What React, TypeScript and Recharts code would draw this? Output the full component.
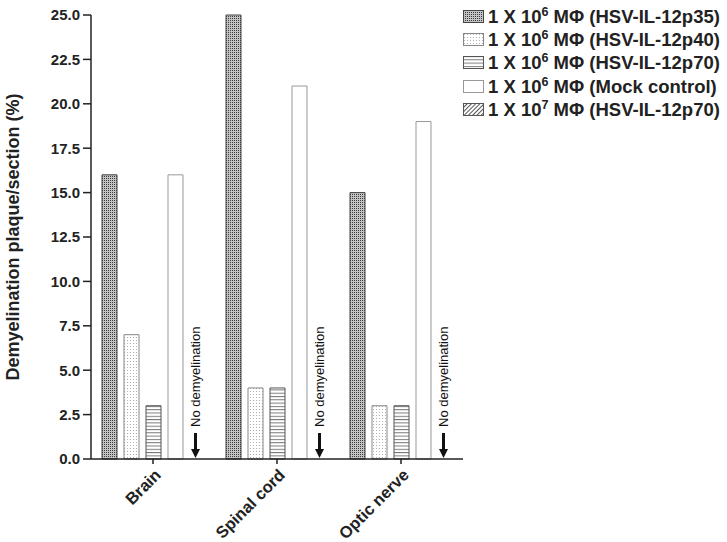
import { Bar, BarChart, Legend, Rectangle, XAxis, YAxis } from "recharts";

const CATEGORIES = ["Brain", "Spinal cord", "Optic nerve"];
const P35_1E6 = [16, 25, 15];
const P40_1E6 = [7, 4, 3];
const P70_1E6 = [3, 4, 3];
const MOCK_1E6 = [16, 21, 19];
const P70_1E7 = [0, 0, 0];
const Y_TICKS = [0, 2.5, 5, 7.5, 10, 12.5, 15, 17.5, 20, 22.5, 25];

const SERIES = [
    { key: "p35", exp: "6", label: "(HSV-IL-12p35)", fill: "url(#pat-check)", stroke: "#444" },
    { key: "p40", exp: "6", label: "(HSV-IL-12p40)", fill: "url(#pat-dots)", stroke: "#888" },
    { key: "p70", exp: "6", label: "(HSV-IL-12p70)", fill: "url(#pat-hlines)", stroke: "#555" },
    { key: "mock", exp: "6", label: "(Mock control)", fill: "#fff", stroke: "#999" },
    { key: "p70hi", exp: "7", label: "(HSV-IL-12p70)", fill: "url(#pat-diag)", stroke: "#555" },
];

const data = CATEGORIES.map((name, i) => ({
    name,
    p35: P35_1E6[i],
    p40: P40_1E6[i],
    p70: P70_1E6[i],
    mock: MOCK_1E6[i],
    p70hi: P70_1E7[i],
}));

const FONT = "'Liberation Sans', Arial, sans-serif";

function Patterns() {
    return (
        <defs>
            <pattern id="pat-check" width="2" height="2" patternUnits="userSpaceOnUse">
                <rect width="2" height="2" fill="#c4c4c4" />
                <rect width="1" height="1" fill="#3a3a3a" />
            </pattern>
            <pattern id="pat-dots" width="3" height="3" patternUnits="userSpaceOnUse">
                <rect width="3" height="3" fill="#fff" />
                <rect x="1" y="1" width="1" height="1" fill="#b0b0b0" />
            </pattern>
            <pattern id="pat-hlines" width="4" height="3.3" patternUnits="userSpaceOnUse">
                <rect width="4" height="3.3" fill="#fff" />
                <rect width="4" height="1" fill="#777" />
            </pattern>
            <pattern id="pat-diag" width="3" height="3" patternUnits="userSpaceOnUse" patternTransform="rotate(45)">
                <rect width="3" height="3" fill="#fff" />
                <rect width="1" height="3" fill="#555" />
            </pattern>
        </defs>
    );
}

// zero-height 1e7 bar: draw the arrow and the note instead of a rect
function HiDoseShape(props: any) {
    const { x, y, width, height } = props;
    if (height) return <Rectangle {...props} />;
    const cx = Number(x) + Number(width) / 2 - 2;
    const base = Number(y);
    return (
        <g>
            <text
                transform={`translate(${cx + 4.5}, ${base - 32}) rotate(-90)`}
                fontFamily={FONT}
                fontSize={13}
                fill="#111"
                textAnchor="start"
            >
                No demyelination
            </text>
            <line x1={cx} x2={cx} y1={base - 26} y2={base - 9} stroke="#111" strokeWidth={3} />
            <polygon points={`${cx - 4.5},${base - 10} ${cx + 4.5},${base - 10} ${cx},${base - 1}`} fill="#111" />
        </g>
    );
}

function XTick(props: any) {
    const { x, y, payload } = props;
    return (
        <text
            transform={`translate(${x + 9}, ${y + 10}) rotate(-45)`}
            textAnchor="end"
            fontFamily={FONT}
            fontWeight="bold"
            fontSize={16.5}
            fill="#222"
        >
            {payload.value}
        </text>
    );
}

function LegendBox() {
    return (
        <div style={{ fontFamily: FONT, fontWeight: "bold", fontSize: 18.5, color: "#222" }}>
            {SERIES.map((s) => (
                <div key={s.key} style={{ display: "flex", alignItems: "center", height: 23.3, whiteSpace: "nowrap" }}>
                    <svg width={22} height={14} style={{ marginRight: 3 }}>
                        <rect x={0.5} y={0.5} width={20} height={12} fill={s.fill} stroke={s.stroke} />
                    </svg>
                    <span>
                        1 X 10<sup style={{ fontSize: 12.5, lineHeight: 0 }}>{s.exp}</sup> MΦ {s.label}
                    </span>
                </div>
            ))}
        </div>
    );
}

export default function App() {
    return (
        <div style={{ position: "absolute", left: 0, top: 0, width: 727, height: 542, background: "#fff" }}>
            <BarChart
                width={727}
                height={542}
                data={data}
                margin={{ top: 15, right: 0, bottom: 0, left: 0 }}
                barSize={15}
                barGap={7}
            >
                <Patterns />
                <YAxis
                    domain={[0, 25]}
                    ticks={Y_TICKS}
                    width={91}
                    tickFormatter={(v: number) => v.toFixed(1)}
                    tick={{ fontFamily: FONT, fontWeight: "bold", fontSize: 15, fill: "#222" }}
                    tickSize={8}
                    tickMargin={3}
                    axisLine={{ stroke: "#222", strokeWidth: 1.5 }}
                    tickLine={{ stroke: "#222", strokeWidth: 1.5 }}
                    label={{
                        value: "Demyelination plaque/section (%)",
                        angle: -90,
                        position: "insideLeft",
                        dx: 8,
                        dy: 0,
                        style: { fontFamily: FONT, fontWeight: "bold", fontSize: 18, fill: "#222", textAnchor: "middle" },
                    }}
                />
                <XAxis
                    dataKey="name"
                    height={83}
                    tick={<XTick />}
                    tickSize={5}
                    interval={0}
                    axisLine={{ stroke: "#222", strokeWidth: 1.5 }}
                    tickLine={{ stroke: "#222", strokeWidth: 1.5 }}
                />
                <Legend
                    layout="vertical"
                    align="right"
                    verticalAlign="top"
                    width={264}
                    wrapperStyle={{ top: 5, right: 0 }}
                    content={<LegendBox />}
                />
                {SERIES.map((s) => (
                    <Bar
                        key={s.key}
                        dataKey={s.key}
                        fill={s.fill}
                        stroke={s.stroke}
                        strokeWidth={1}
                        isAnimationActive={false}
                        shape={s.key === "p70hi" ? HiDoseShape : undefined}
                    />
                ))}
            </BarChart>
        </div>
    );
}
